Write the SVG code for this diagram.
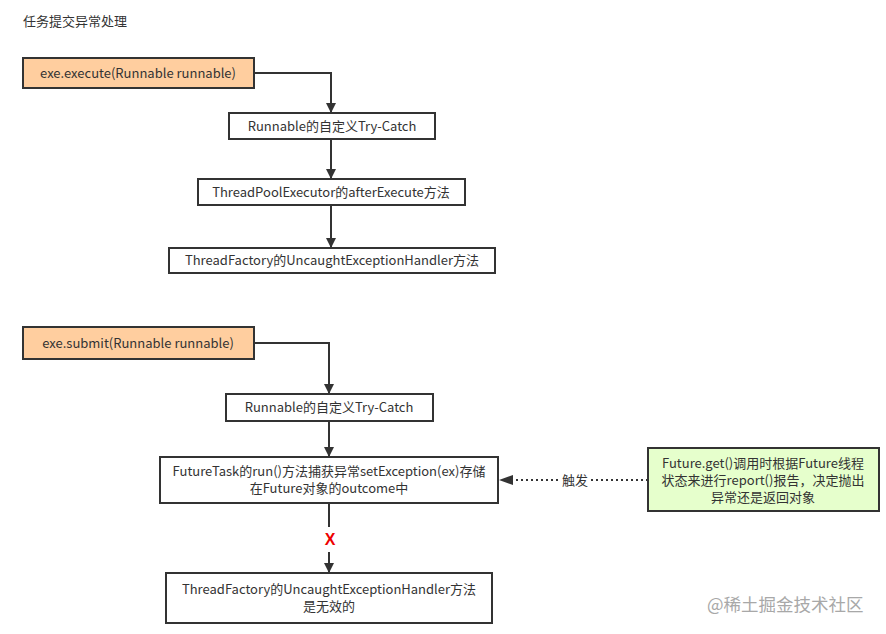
<svg xmlns="http://www.w3.org/2000/svg" width="886" height="634" viewBox="0 0 886 634">
<defs>
<style>
text{font-family:"Noto Sans CJK SC","Liberation Sans",sans-serif;font-size:13px;fill:#333;}
.c{text-anchor:middle;}
.m{font-size:12.5px;}
.box{fill:#fff;stroke:#333;stroke-width:2;}
.org{fill:#ffce9f;stroke:#333;stroke-width:2;}
.grn{fill:#e6ffcc;stroke:#333;stroke-width:2;}
.ln{fill:none;stroke:#333;stroke-width:2;}
.dot{fill:none;stroke:#333;stroke-width:2;stroke-dasharray:2 3;}
</style>
<marker id="ah" viewBox="0 0 10 10" refX="10" refY="5" markerWidth="5" markerHeight="5" orient="auto" markerUnits="strokeWidth">
<path d="M0,0 L10,5 L0,10 Z" fill="#333"/>
</marker>
</defs>
<rect width="886" height="634" fill="#fff"/>
<text x="23" y="26">任务提交异常处理</text>

<g id="connectors">
<path class="ln" d="M254,73 H331 V113" marker-end="url(#ah)"/>
<path class="ln" d="M331,139 V179" marker-end="url(#ah)"/>
<path class="ln" d="M331,205 V248" marker-end="url(#ah)"/>
<path class="ln" d="M254,343 H329 V394" marker-end="url(#ah)"/>
<path class="ln" d="M329,421 V457" marker-end="url(#ah)"/>
<path class="ln" d="M329,503 V527"/>
<path class="ln" d="M329,552 V573" marker-end="url(#ah)"/>
<path class="dot" d="M648,480 H512"/>
<path d="M499,480 L513,475 L513,485 Z" fill="#333"/>
<rect x="560" y="472" width="30" height="17" fill="#fff"/>
<text class="c" x="575" y="485">触发</text>
<text class="c" x="330" y="545" style="fill:#e00;font-weight:bold;font-size:16px;font-family:'Liberation Sans',sans-serif">X</text>
</g>

<g id="n1"><rect class="org" x="23" y="58" width="231" height="30"/><text class="c" x="138" y="78">exe.execute(Runnable runnable)</text></g>
<g id="n2"><rect class="box" x="229" y="113" width="206" height="26"/><text class="c" x="332" y="131">Runnable的自定义Try-Catch</text></g>
<g id="n3"><rect class="box" x="198" y="179" width="267" height="26"/><text class="c" x="331" y="197">ThreadPoolExecutor的afterExecute方法</text></g>
<g id="n4"><rect class="box" x="169" y="248" width="326" height="25"/><text class="c" x="332" y="265">ThreadFactory的UncaughtExceptionHandler方法</text></g>

<g id="n5"><rect class="org" x="23" y="327" width="231" height="32"/><text class="c" x="138" y="348">exe.submit(Runnable runnable)</text></g>
<g id="n6"><rect class="box" x="226" y="394" width="207" height="27"/><text class="c" x="329" y="412">Runnable的自定义Try-Catch</text></g>
<g id="n7"><rect class="box" x="160" y="457" width="338" height="46"/><text class="c" x="329" y="476">FutureTask的run()方法捕获异常setException(ex)存储</text><text class="c" x="329" y="493">在Future对象的outcome中</text></g>
<g id="n8"><rect class="box" x="166" y="573" width="326" height="50"/><text class="c" x="329" y="594">ThreadFactory的UncaughtExceptionHandler方法</text><text class="c" x="329" y="611">是无效的</text></g>
<g id="n9"><rect class="grn" x="648" y="448" width="231" height="63"/><text class="c" x="763" y="468">Future.get()调用时根据Future线程</text><text class="c" x="763" y="485">状态来进行report()报告，决定抛出</text><text class="c" x="763" y="502">异常还是返回对象</text></g>

<text x="707" y="611" style="fill:#a8a8a8;font-size:17.5px">@稀土掘金技术社区</text>
</svg>
